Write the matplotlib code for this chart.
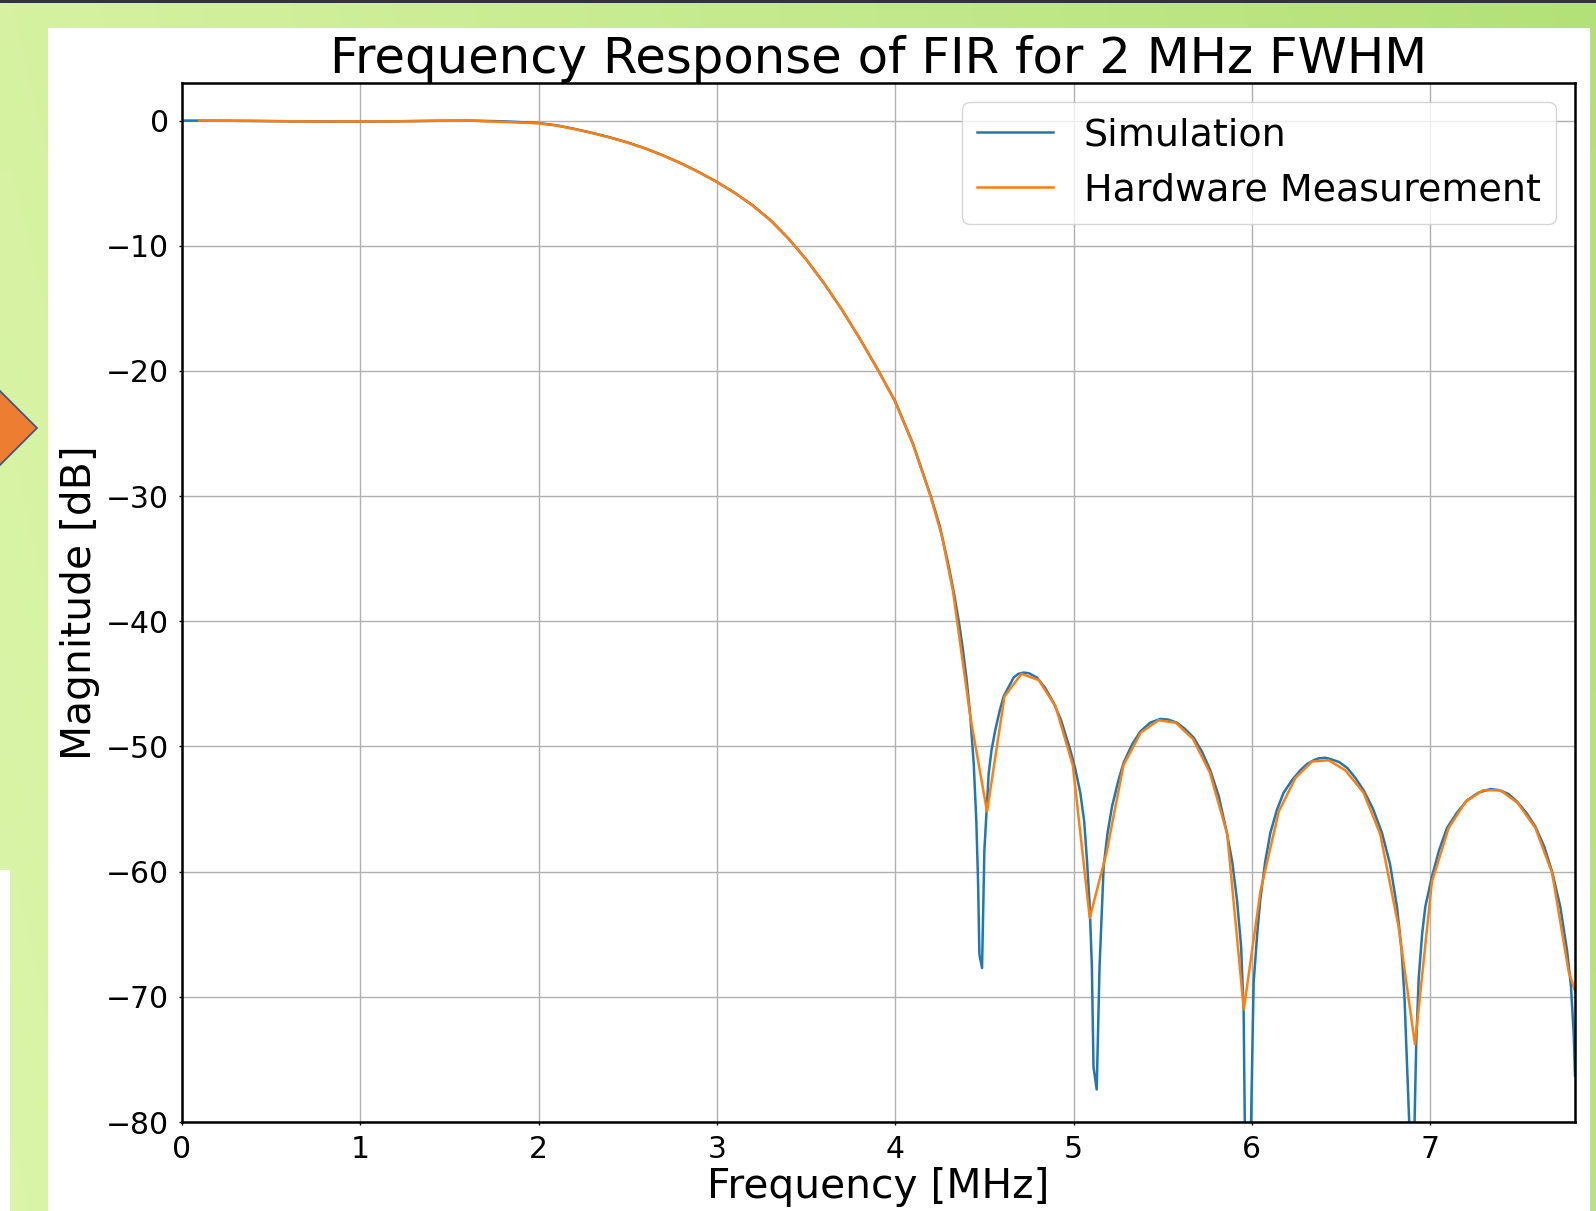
import numpy as np
import matplotlib
matplotlib.use("Agg")
import matplotlib.pyplot as plt
from matplotlib.patches import Rectangle, Polygon

# ---------------- data ----------------
sim_freq_mhz = [0.0, 0.2, 0.4, 0.6, 0.8, 1.0, 1.2, 1.4, 1.6, 1.8,
                2.0, 2.1, 2.2, 2.3, 2.4, 2.5, 2.6, 2.7, 2.8, 2.9,
                3.0, 3.1, 3.2, 3.3, 3.4, 3.5, 3.6, 3.7, 3.8, 3.9,
                4.0, 4.1, 4.2, 4.25, 4.3, 4.33, 4.36, 4.38, 4.40, 4.42,
                4.44, 4.455, 4.465, 4.472, 4.487, 4.50, 4.524, 4.54, 4.561, 4.585,
                4.608, 4.64, 4.664, 4.69, 4.72, 4.75, 4.795, 4.84, 4.888, 4.93,
                4.98, 5.01, 5.038, 5.06, 5.075, 5.09, 5.103, 5.112, 5.13, 5.146,
                5.169, 5.19, 5.216, 5.25, 5.281, 5.33, 5.375, 5.43, 5.487, 5.53,
                5.58, 5.625, 5.674, 5.72, 5.767, 5.815, 5.86, 5.89, 5.917, 5.94,
                5.954, 5.962, 5.978, 5.993, 6.01, 6.03, 6.047, 6.075, 6.104, 6.14,
                6.178, 6.225, 6.272, 6.31, 6.347, 6.375, 6.412, 6.44, 6.49, 6.534,
                6.58, 6.627, 6.68, 6.73, 6.775, 6.814, 6.84, 6.856, 6.884, 6.898,
                6.912, 6.922, 6.936, 6.955, 6.973, 7.01, 7.05, 7.095, 7.15, 7.207,
                7.27, 7.338, 7.39, 7.44, 7.487, 7.54, 7.59, 7.64, 7.684, 7.73,
                7.768, 7.79, 7.805, 7.8125]
sim_db = [0.0, -0.01, -0.03, -0.06, -0.08, -0.08, -0.06, -0.02, 0.0, -0.06,
          -0.20, -0.38, -0.66, -0.98, -1.34, -1.75, -2.23, -2.79, -3.42, -4.12,
          -4.90, -5.77, -6.77, -7.95, -9.40, -11.08, -12.98, -15.08, -17.38, -19.83,
          -22.43, -25.83, -30.03, -32.4, -35.6, -37.8, -40.3, -42.3, -44.6, -47.4,
          -51.3, -56.0, -61.0, -66.6, -67.7, -58.3, -52.2, -50.3, -48.7, -47.2,
          -46.0, -45.15, -44.5, -44.2, -44.1, -44.15, -44.5, -45.3, -46.5, -47.9,
          -50.2, -51.8, -53.7, -56.0, -59.0, -62.5, -67.6, -75.6, -77.4, -67.6,
          -59.6, -57.0, -54.8, -52.8, -51.3, -49.8, -48.8, -48.1, -47.8, -47.85,
          -48.1, -48.6, -49.3, -50.4, -51.9, -54.0, -56.9, -59.2, -62.3, -66.0,
          -71.1, -82.0, -95.0, -82.0, -68.9, -65.0, -62.3, -59.2, -56.9, -55.1,
          -53.7, -52.7, -51.9, -51.4, -51.1, -50.95, -50.9, -51.0, -51.25, -51.7,
          -52.5, -53.5, -55.0, -56.9, -59.4, -62.8, -66.3, -70.0, -80.5, -95.0,
          -80.5, -73.7, -68.5, -65.0, -62.8, -60.4, -58.3, -56.5, -55.3, -54.3,
          -53.7, -53.4, -53.5, -53.8, -54.4, -55.3, -56.4, -58.0, -60.0, -62.8,
          -66.3, -69.2, -72.9, -76.3]

hw_freq_mhz = [0.096, 0.4, 0.8, 1.2, 1.6, 2.0, 2.1, 2.2, 2.3, 2.4,
               2.5, 2.6, 2.7, 2.8, 2.9, 3.0, 3.1, 3.2, 3.3, 3.4,
               3.5, 3.6, 3.7, 3.8, 3.9, 4.0, 4.1, 4.2, 4.262, 4.324,
               4.421, 4.515, 4.613, 4.708, 4.805, 4.899, 4.996, 5.091, 5.185, 5.28,
               5.377, 5.476, 5.573, 5.67, 5.765, 5.862, 5.955, 6.049, 6.151, 6.245,
               6.338, 6.431, 6.524, 6.627, 6.72, 6.823, 6.915, 7.01, 7.104, 7.2,
               7.297, 7.394, 7.49, 7.59, 7.684, 7.777, 7.866]
hw_db = [0.0, -0.03, -0.08, -0.06, 0.0, -0.22, -0.40, -0.68, -1.00, -1.36,
         -1.77, -2.25, -2.81, -3.44, -4.14, -4.92, -5.79, -6.79, -7.97, -9.42,
         -11.10, -13.00, -15.10, -17.40, -19.86, -22.48, -25.9, -30.1, -33.2, -37.6,
         -47.6, -55.2, -46.0, -44.2, -44.7, -46.8, -51.5, -63.7, -58.5, -51.5,
         -48.9, -47.9, -48.1, -49.4, -52.1, -57.0, -71.0, -61.5, -55.2, -52.5,
         -51.2, -51.1, -51.9, -53.7, -57.0, -64.4, -73.8, -60.8, -56.5, -54.4,
         -53.5, -53.5, -54.5, -56.5, -60.1, -68.0, -71.8]

series_labels = ["Simulation", "Hardware Measurement"]
x_ticks = [0, 1, 2, 3, 4, 5, 6, 7]
y_ticks = [0, -10, -20, -30, -40, -50, -60, -70, -80]
title_text = "Frequency Response of FIR for 2 MHz FWHM"
x_label = "Frequency [MHz]"
y_label = "Magnitude [dB]"

# ---------------- figure ----------------
plt.rcParams['font.family'] = ['DejaVu Sans']
W, H = 1596, 1211
fig = plt.figure(figsize=(W / 100, H / 100), dpi=100)
fig.patch.set_facecolor('white')

# slide background decoration
bg = fig.add_axes([0, 0, 1, 1], zorder=-10)
bg.set_xlim(0, W)
bg.set_ylim(H, 0)
bg.axis('off')
gx = np.linspace(0, 1, 64)[None, :, None]
gy = np.linspace(0, 1, 48)[:, None, None]
c_left = np.array([0.86, 0.96, 0.66])
c_right = np.array([0.70, 0.885, 0.47])
t = np.clip(gx * 0.85 + (1 - gy) * 0.15, 0, 1)
grad = c_left * (1 - t) + c_right * t
bg.imshow(grad, extent=[0, W, H, 0], aspect='auto', interpolation='bilinear')
bg.add_patch(Rectangle((48, 28), 1542, H - 28, facecolor='white', edgecolor='none'))
bg.add_patch(Rectangle((0, 870), 10, H - 870, facecolor='white', edgecolor='none'))
bg.add_patch(Rectangle((0, 0), W, 2.5, facecolor='#333333', edgecolor='none'))
bg.add_patch(Polygon([(37, 428), (0, 391), (-37, 428), (0, 465)], closed=True,
                     facecolor='#ED7D31', edgecolor='#3C5A8C', linewidth=1.3))

# main chart
ax = fig.add_axes([182 / W, 1 - 1122 / H, (1575 - 182) / W, (1122 - 83) / H])
ax.plot(sim_freq_mhz, sim_db, color='#1f77b4', linewidth=1.8, label=series_labels[0])
ax.plot(hw_freq_mhz, hw_db, color='#ff7f0e', linewidth=1.8, label=series_labels[1])

ax.set_xlim(0, 7.8125)
ax.set_ylim(-80, 3)
ax.set_xticks(x_ticks)
ax.set_yticks(y_ticks)
ax.tick_params(labelsize=21.5, length=2.2, width=1.0, pad=7)
ax.grid(True, color='#b0b0b0', linewidth=1.0)
for s in ax.spines.values():
    s.set_linewidth(1.8)

ax.set_title(title_text, fontsize=35.8, pad=2.5)
ax.set_xlabel(x_label, fontsize=29.3, labelpad=2)
ax.set_ylabel(y_label, fontsize=29.3, labelpad=4.5)

leg = ax.legend(loc='upper right', fontsize=27.4, framealpha=0.8, edgecolor='#cccccc',
                handlelength=2.0, borderaxespad=0.5)
leg.get_frame().set_linewidth(1.0)

fig.savefig('out.png', dpi=100, facecolor=fig.get_facecolor())
